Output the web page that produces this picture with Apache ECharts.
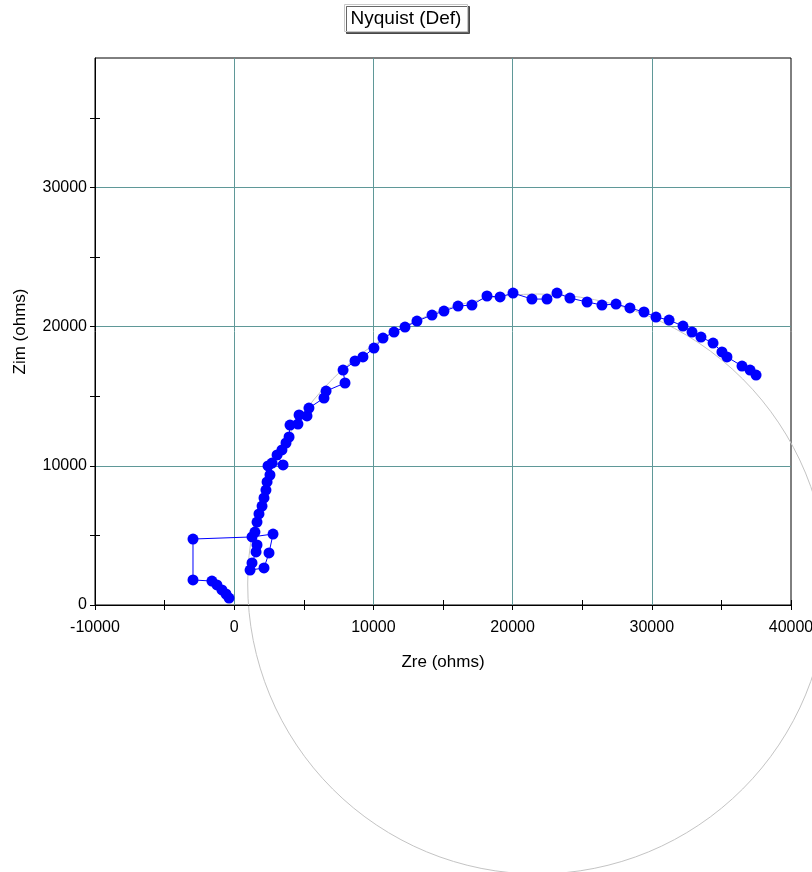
<!DOCTYPE html>
<html>
<head>
<meta charset="utf-8">
<script src="https://cdn.jsdelivr.net/npm/echarts@6/dist/echarts.min.js"></script>
<style>
  html, body { margin: 0; padding: 0; background: #fff; }
  #main { width: 812px; height: 872px; }
</style>
</head>
<body>
<div id="main"></div>
<script>
// Nyquist data, Zre / Zim in ohms
var zre = [-370, -590, -880, -1240, -1600, -2960, -2960, 1280, 2790, 2500, 2140, 1140,
  1280, 1570, 1640, 1490, 1640, 1780, 2000, 2140, 2280, 2360, 2570, 2430, 2720, 3510,
  3080, 3430, 3720, 3940, 4010, 4580, 4660, 5230, 5370, 6450, 6600, 7960, 7820, 8680,
  9250, 10040, 10690, 11480, 12270, 13130, 14210, 15070, 16080, 17080, 18160, 19100,
  20030, 21390, 22470, 23190, 24120, 25350, 26420, 27430, 28430, 29440, 30300, 31240,
  32240, 32890, 33530, 34400, 35040, 35400, 36480, 37060, 37490];
var zim = [500, 790, 1080, 1440, 1720, 1800, 4740, 4890, 5100, 3740, 2660, 2510,
  3020, 3810, 4310, 5240, 5960, 6540, 7110, 7690, 8260, 8840, 9340, 9990, 10200, 10060,
  10780, 11140, 11640, 12070, 12930, 13000, 13650, 13580, 14150, 14870, 15370, 15950, 16880, 17530,
  17820, 18460, 19180, 19610, 19970, 20400, 20830, 21120, 21480, 21550, 22200, 22130,
  22410, 21980, 21980, 22410, 22050, 21770, 21550, 21620, 21340, 21050, 20690, 20470,
  20040, 19610, 19250, 18820, 18180, 17820, 17170, 16880, 16520];

// fitted circle: centre Zre, centre Zim, radius
var fitCenter = [21800, 1510];
var fitRadius = 20830;

var xRange = [-10000, 40000];
var yRange = [0, 39300];
var xTickMarks = [-10000, -5000, 0, 5000, 10000, 15000, 20000, 25000, 30000, 35000, 40000];
var yTickMarks = [0, 5000, 10000, 15000, 20000, 25000, 30000, 35000];

var points = [];
for (var i = 0; i < zre.length; i++) {
  points.push([zre[i], zim[i]]);
}

var font = 'Liberation Sans';
var gridColor = '#5f9898';

function renderFit(params, api) {
  var c = api.coord([api.value(0), api.value(1)]);
  var r = api.size([api.value(2), 0])[0];
  return {
    type: 'circle',
    shape: { cx: c[0], cy: c[1], r: r },
    style: { fill: 'none', stroke: '#c4c4c4', lineWidth: 1 },
    silent: true
  };
}

// one axis with labels + grid, two more only for the ticks crossing the line
function makeAxes(range, marks, isX) {
  var main = {
    type: 'value', min: range[0], max: range[1], interval: 10000, z: 3,
    axisLine: { show: true, onZero: false, lineStyle: { color: '#000', width: 1 } },
    axisTick: { show: false },
    axisLabel: {
      color: '#000', fontFamily: font, fontSize: 16,
      margin: isX ? 15 : 8, showMaxLabel: isX ? true : false,
      formatter: function (v) { return String(v); }
    },
    splitLine: { show: true, showMinLine: false, showMaxLine: false, lineStyle: { color: gridColor, width: 1 } },
    name: isX ? 'Zre (ohms)' : 'Zim (ohms)',
    nameLocation: 'middle',
    nameGap: isX ? 49 : 66,
    nameTextStyle: { color: '#000', fontFamily: font, fontSize: 17 }
  };
  var out = {
    type: 'value', min: range[0], max: range[1], interval: 5000, z: 1,
    axisLine: { show: false, onZero: false },
    axisTick: { show: true, length: 5, customValues: marks, lineStyle: { color: '#000' } },
    axisLabel: { show: false },
    splitLine: { show: false }
  };
  var inn = {
    type: 'value', min: range[0], max: range[1], interval: 5000, z: 1,
    axisLine: { show: false, onZero: false },
    axisTick: { show: true, inside: true, length: 5, customValues: marks, lineStyle: { color: '#000' } },
    axisLabel: { show: false },
    splitLine: { show: false }
  };
  var pos = isX ? 'bottom' : 'left';
  main.position = pos; out.position = pos; inn.position = pos;
  return [main, out, inn];
}

var chart = echarts.init(document.getElementById('main'), null, { renderer: 'canvas' });

var option = {
  animation: false,
  backgroundColor: '#fff',
  title: {
    text: 'Nyquist (Def)',
    left: 'center',
    top: 4,
    padding: [5, 6, 4, 6],
    backgroundColor: '#fff',
    borderColor: '#c8c8c8',
    borderWidth: 1,
    shadowColor: 'rgba(0,0,0,0.6)',
    shadowBlur: 0,
    shadowOffsetX: 2,
    shadowOffsetY: 2,
    textStyle: { color: '#000', fontFamily: font, fontSize: 19, fontWeight: 'normal' }
  },
  grid: {
    left: 95, top: 58, width: 696, height: 547,
    outerBoundsMode: 'none',
    containLabel: false,
    show: true, borderColor: '#000', borderWidth: 1, backgroundColor: 'transparent'
  },
  xAxis: makeAxes(xRange, xTickMarks, true),
  yAxis: makeAxes(yRange, yTickMarks, false),
  series: [
    {
      type: 'custom',
      renderItem: renderFit,
      clip: false,
      z: 1,
      data: [[fitCenter[0], fitCenter[1], fitRadius]]
    },
    {
      type: 'line',
      data: points,
      z: 5,
      symbol: 'circle',
      symbolSize: 11,
      showAllSymbol: true,
      itemStyle: { color: '#0000ff' },
      lineStyle: { color: '#0000ff', width: 1 }
    }
  ]
};

chart.setOption(option);
</script>
</body>
</html>
